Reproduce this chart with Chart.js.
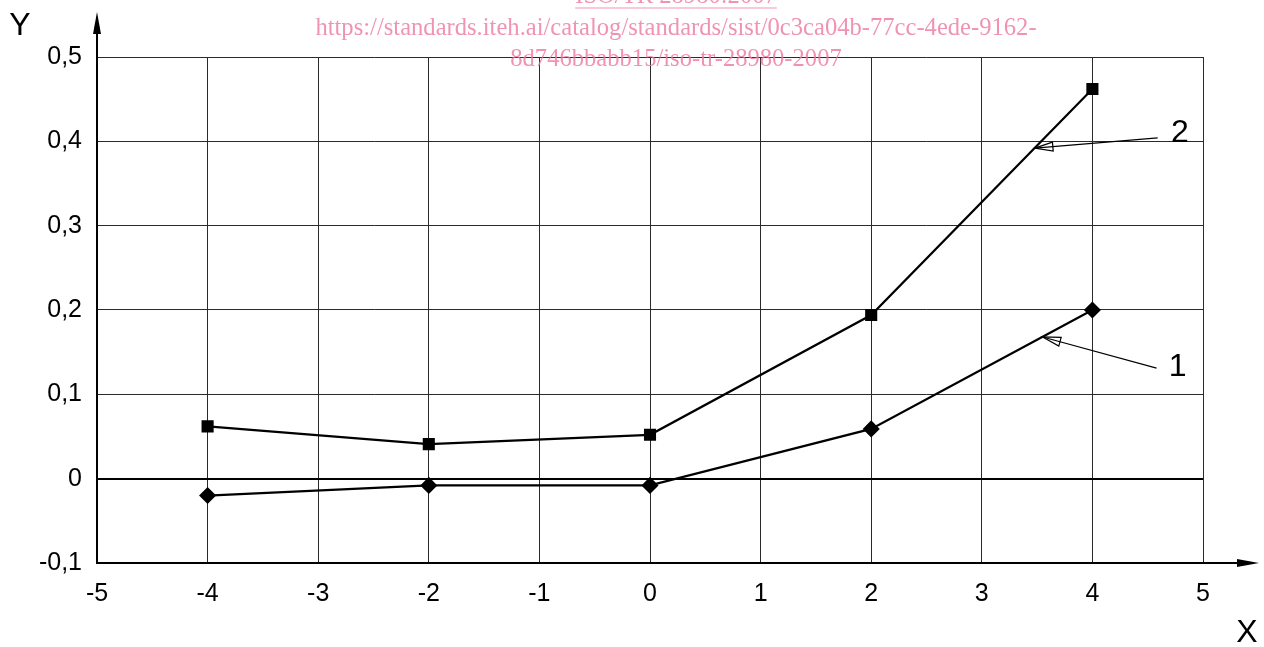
<!DOCTYPE html>
<html lang="ru">
<head>
  <meta charset="UTF-8">
  <title>Y(X)</title>
  <script src="https://cdn.jsdelivr.net/npm/chart.js"></script>
  <style>
    body { margin: 0; background: #fff; }
    #wrap { width: 1264px; height: 647px; }
  </style>
</head>
<body>

<div id="wrap"><canvas id="grafik" width="1264" height="647"></canvas></div>

<script>
  // data
  const xVals = [-4, -2, 0, 2, 4];
  const kurva1 = [-0.02, -0.008, -0.008, 0.059, 0.2];
  const kurva2 = [0.062, 0.041, 0.052, 0.194, 0.462];
  const xTicks = [-5, -4, -3, -2, -1, 0, 1, 2, 3, 4, 5];
  const yTicks = [-0.1, 0, 0.1, 0.2, 0.3, 0.4, 0.5];

  // leader lines for the curve numbers (data units)
  const labelNames = ['1', '2'];
  const labelAt = [[4.77, 0.132], [4.79, 0.41]];
  const leaderFrom = [[4.58, 0.131], [4.59, 0.404]];
  const leaderTo = [[3.55, 0.168], [3.48, 0.392]];

  const watermark = [
    'ISO/TR 28980:2007',
    'https://standards.iteh.ai/catalog/standards/sist/0c3ca04b-77cc-4ede-9162-',
    '8d746bbabb15/iso-tr-28980-2007'
  ];

  const FONT = 'Arial, "Liberation Sans", sans-serif';

  function fmtY(v) {
    if (Math.abs(v) < 1e-9) return '0';
    return v.toFixed(1).replace('.', ',');
  }

  function arrowHead(ctx, x, y, ang, len, half, filled) {
    ctx.beginPath();
    ctx.moveTo(x, y);
    ctx.lineTo(x - len * Math.cos(ang) + half * Math.sin(ang), y - len * Math.sin(ang) - half * Math.cos(ang));
    ctx.lineTo(x - len * Math.cos(ang) - half * Math.sin(ang), y - len * Math.sin(ang) + half * Math.cos(ang));
    ctx.closePath();
    if (filled) ctx.fill(); else ctx.stroke();
  }

  const hiasan = {
    id: 'hiasan',
    afterDraw(chart) {
      const ctx = chart.ctx;
      const xs = chart.scales.x, ys = chart.scales.y;
      const ca = chart.chartArea;
      ctx.save();

      // axis arrows
      ctx.strokeStyle = '#000';
      ctx.fillStyle = '#000';
      ctx.lineWidth = 2;
      ctx.beginPath();
      ctx.moveTo(ca.left, ca.top);
      ctx.lineTo(ca.left, 18);
      ctx.moveTo(ca.right, ca.bottom);
      ctx.lineTo(1252, ca.bottom);
      ctx.stroke();
      arrowHead(ctx, ca.left, 12, -Math.PI / 2, 22, 4, true);
      arrowHead(ctx, 1259, ca.bottom, 0, 22, 4, true);

      ctx.font = '32px ' + FONT;
      ctx.textAlign = 'center';
      ctx.textBaseline = 'middle';
      ctx.fillText('Y', 20, 26);
      ctx.fillText('X', 1247, 633);

      // curve numbers with leaders
      ctx.lineWidth = 1.2;
      for (let i = 0; i < labelNames.length; i++) {
        const x1 = xs.getPixelForValue(leaderFrom[i][0]), y1 = ys.getPixelForValue(leaderFrom[i][1]);
        const x2 = xs.getPixelForValue(leaderTo[i][0]), y2 = ys.getPixelForValue(leaderTo[i][1]);
        ctx.beginPath();
        ctx.moveTo(x1, y1);
        ctx.lineTo(x2, y2);
        ctx.stroke();
        arrowHead(ctx, x2, y2, Math.atan2(y2 - y1, x2 - x1), 18, 4.5, false);
        ctx.font = '32px ' + FONT;
        ctx.fillText(labelNames[i], xs.getPixelForValue(labelAt[i][0]), ys.getPixelForValue(labelAt[i][1]));
      }

      // watermark
      ctx.fillStyle = 'rgba(236, 120, 160, 0.8)';
      ctx.strokeStyle = 'rgba(236, 120, 160, 0.8)';
      ctx.lineWidth = 1;
      ctx.font = '24.6px "Liberation Serif", "Times New Roman", serif';
      ctx.textBaseline = 'alphabetic';
      ctx.fillText(watermark[0], 676, 3);
      const w0 = ctx.measureText(watermark[0]).width;
      ctx.beginPath();
      ctx.moveTo(676 - w0 / 2, 8);
      ctx.lineTo(676 + w0 / 2, 8);
      ctx.stroke();
      ctx.fillText(watermark[1], 676, 35);
      ctx.fillText(watermark[2], 676, 66);

      ctx.restore();
    }
  };

  const ctx = document.getElementById('grafik').getContext('2d');
  new Chart(ctx, {
    type: 'scatter',
    data: {
      datasets: [
        {
          label: '1',
          data: xVals.map((x, i) => ({ x: x, y: kurva1[i] })),
          showLine: true,
          borderColor: '#000',
          backgroundColor: '#000',
          borderWidth: 2.2,
          pointStyle: 'rectRot',
          pointRadius: 7,
          pointHoverRadius: 7
        },
        {
          label: '2',
          data: xVals.map((x, i) => ({ x: x, y: kurva2[i] })),
          showLine: true,
          borderColor: '#000',
          backgroundColor: '#000',
          borderWidth: 2.2,
          pointStyle: 'rect',
          pointRadius: 7,
          pointHoverRadius: 7
        }
      ]
    },
    options: {
      responsive: false,
      animation: false,
      layout: { padding: { left: 0, top: 57, right: 61, bottom: 0 } },
      plugins: {
        legend: { display: false },
        tooltip: { enabled: false },
        title: { display: false }
      },
      scales: {
        x: {
          type: 'linear',
          min: -5,
          max: 5,
          afterFit: s => { s.height = 84; },
          afterBuildTicks: s => { s.ticks = xTicks.map(v => ({ value: v })); },
          border: { color: '#000', width: 2 },
          grid: { color: '#2a2a2a', lineWidth: 1, drawTicks: false },
          ticks: {
            padding: 16,
            color: '#000',
            font: { family: FONT, size: 25 },
            callback: v => String(v)
          }
        },
        y: {
          type: 'linear',
          min: -0.1,
          max: 0.5,
          afterFit: s => { s.width = 97; },
          afterBuildTicks: s => { s.ticks = yTicks.map(v => ({ value: v })); },
          border: { color: '#000', width: 2 },
          grid: {
            drawTicks: false,
            color: c => (c.tick && Math.abs(c.tick.value) < 1e-9) ? '#000' : '#2a2a2a',
            lineWidth: c => (c.tick && Math.abs(c.tick.value) < 1e-9) ? 2 : 1
          },
          ticks: {
            padding: 15,
            color: '#000',
            font: { family: FONT, size: 25 },
            callback: v => fmtY(v)
          }
        }
      }
    },
    plugins: [hiasan]
  });
</script>

</body>
</html>
